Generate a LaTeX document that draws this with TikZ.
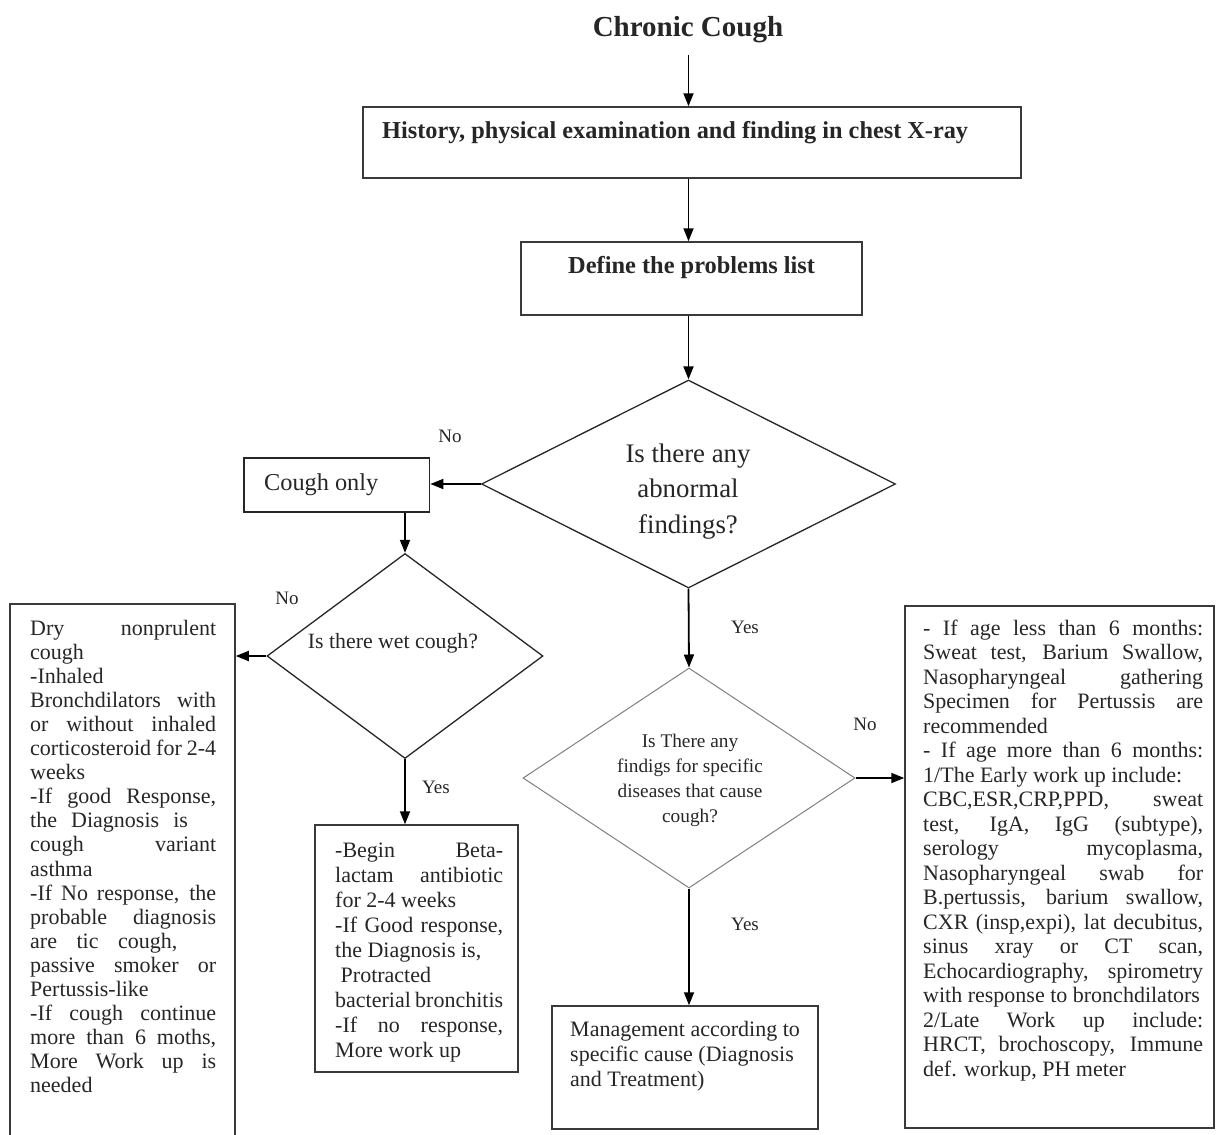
\documentclass[tikz,border=0pt]{standalone}
\usepackage{fontspec}
\setmainfont{Liberation Serif}
\usetikzlibrary{shapes.geometric,arrows.meta}
\newcommand\JL[1]{\hbox to\linewidth{#1}}
\newcommand\RL[1]{\hbox to\linewidth{#1\hfil}}
\newcommand\CL[1]{\hbox to\linewidth{\hfil#1\hfil}}
\hbadness=10000
\hfuzz=20pt
\definecolor{txt}{HTML}{262626}
\definecolor{edge}{HTML}{3A3A3A}
\begin{document}
\begin{tikzpicture}[x=1pt,y=-1pt,
  boxshape/.style={rectangle,draw=edge,line width=1.5pt,inner sep=0pt},
  dshape/.style={diamond,draw=black!85,line width=1.3pt,inner sep=0pt,aspect=2},
  dlight/.style={diamond,draw=black!50,line width=1.0pt,inner sep=0pt,aspect=1.5},
  txtnode/.style={inner sep=0pt,text=txt},
  lbl/.style={inner sep=0pt,text=txt,font=\fontsize{19pt}{22pt}\selectfont,anchor=base},
  arr/.style={draw=black,line width=1.8pt,-{Triangle[length=13pt,width=10pt]}}
]
\useasboundingbox (0,0) rectangle (1216,1135);

% ---- shapes ----
\node[boxshape,minimum width=658pt,minimum height=71pt] (box1) at (692,142.5) {};
\node[boxshape,minimum width=341pt,minimum height=73pt] (box2) at (691.5,278.5) {};
\node[dshape,minimum width=414pt,minimum height=208pt] (d1) at (688.5,484) {};
\node[boxshape,line width=1.7pt,draw=black!85,minimum width=185.5pt,minimum height=53.7pt] (cough) at (336.75,484.85) {};
\node[dshape,minimum width=276pt,minimum height=205pt] (d2) at (405,656) {};
\node[boxshape,minimum width=225pt,minimum height=546pt] (left) at (122.5,877) {};
\node[boxshape,minimum width=203pt,minimum height=247pt] (mid) at (416.5,948.5) {};
\node[dlight,minimum width=332pt,minimum height=220pt] (d3) at (689,778) {};
\node[boxshape,minimum width=309pt,minimum height=522pt] (right) at (1059.5,867) {};
\node[boxshape,minimum width=266pt,minimum height=123pt] (mgmt) at (685,1067.5) {};

% ---- texts ----
\node[txtnode,anchor=base,font=\fontsize{29pt}{32pt}\selectfont\bfseries] (title) at (688,36) {Chronic Cough};
\node[txtnode,anchor=base west,font=\fontsize{24.3pt}{28pt}\selectfont\bfseries] (t1) at (382,138) {History, physical examination and finding in chest X-ray};
\node[txtnode,anchor=base west,font=\fontsize{24.4pt}{28pt}\selectfont\bfseries] (t2) at (568,273) {Define the problems list};
\node[txtnode,anchor=base] (td1) at (688,462) {\parbox[t]{260pt}{\fontsize{26.8pt}{35.7pt}\selectfont
  \CL{Is there any}\CL{abnormal}\CL{findings?}}};
\node[txtnode,anchor=base west,font=\fontsize{24.3pt}{28pt}\selectfont] (tc) at (264,490) {Cough only};
\node[txtnode,anchor=base,font=\fontsize{21.8pt}{25pt}\selectfont] (td2) at (393,648) {Is there wet cough?};
\node[txtnode,anchor=base] (td3) at (690,747) {\parbox[t]{200pt}{\fontsize{19.3pt}{25pt}\selectfont
  \CL{Is There any}\CL{findigs for specific}\CL{diseases that cause}\CL{cough?}}};

\node[txtnode,anchor=base west] (tl) at (30,635) {\parbox[t]{186pt}{\fontsize{22pt}{24.1pt}\selectfont
  \JL{Dry nonprulent}
  \RL{cough}
  \RL{-Inhaled}
  \JL{Bronchdilators with}
  \JL{or without inhaled}
  \JL{corticosteroid for 2-4}
  \RL{weeks}
  \JL{-If good Response,}
  \JL{the Diagnosis is\ \ }
  \JL{cough variant}
  \RL{asthma}
  \JL{-If No response, the}
  \JL{probable diagnosis}
  \JL{are tic cough,\ \ }
  \JL{passive smoker or}
  \RL{Pertussis-like}
  \JL{-If cough continue}
  \JL{more than 6 moths,}
  \JL{More Work up is}
  \RL{needed}}};

\node[txtnode,anchor=base west] (tm) at (335,857) {\parbox[t]{168pt}{\fontsize{22pt}{25pt}\selectfont
  \JL{-Begin Beta-}
  \JL{lactam antibiotic}
  \RL{for 2-4 weeks}
  \JL{-If Good response,}
  \RL{the Diagnosis is,}
  \RL{\ Protracted}
  \JL{bacterial bronchitis}
  \JL{-If no response,}
  \RL{More work up}}};

\node[txtnode,anchor=base west] (tr) at (923,635) {\parbox[t]{280pt}{\fontsize{22pt}{24.5pt}\selectfont
  \JL{- If age less than 6 months:}
  \JL{Sweat test, Barium Swallow,}
  \JL{Nasopharyngeal gathering}
  \JL{Specimen for Pertussis are}
  \RL{recommended}
  \JL{- If age more than 6 months:}
  \RL{1/The Early work up include:}
  \JL{CBC,ESR,CRP,PPD, sweat}
  \JL{test, IgA, IgG (subtype),}
  \JL{serology mycoplasma,}
  \JL{Nasopharyngeal swab for}
  \JL{B.pertussis, barium swallow,}
  \JL{CXR (insp,expi), lat decubitus,}
  \JL{sinus xray or CT scan,}
  \JL{Echocardiography, spirometry}
  \RL{with response to bronchdilators}
  \JL{2/Late Work up include:}
  \JL{HRCT, brochoscopy, Immune}
  \RL{def. workup, PH meter}}};

\node[txtnode,anchor=base west] (tmg) at (570,1036) {\parbox[t]{245pt}{\fontsize{22pt}{25pt}\selectfont
  \RL{Management according to}
  \RL{specific cause (Diagnosis}
  \RL{and Treatment)}}};

% ---- labels ----
\node[lbl] (n1) at (450,442) {No};
\node[lbl] (n2) at (287,604) {No};
\node[lbl] (y2) at (436,793) {Yes};
\node[lbl] (y1) at (745,633) {Yes};
\node[lbl] (n3) at (865,730) {No};
\node[lbl] (y3) at (745,930) {Yes};

% ---- connectors ----
\coordinate (t0) at (688.5,55);
\draw[arr] (t0) -- (t0 |- box1.north);
\draw[arr] (box1.south -| d1.north) -- (box2.north -| d1.north);
\draw[arr] (box2.south -| d1.north) -- (d1.north);
\draw[arr] (d1.west) -- (d1.west -| cough.east);
\draw[arr] (cough.south -| d2.north) -- (d2.north);
\draw[arr] (d2.west) -- (d2.west -| left.east);
\draw[arr] (d2.south) -- (d2.south |- mid.north);
\draw[arr] (d1.south) -- (d3.north);
\draw[arr] (d3.east) -- (d3.east -| right.west);
\draw[arr] (d3.south) -- (d3.south |- mgmt.north);
\end{tikzpicture}
\end{document}
